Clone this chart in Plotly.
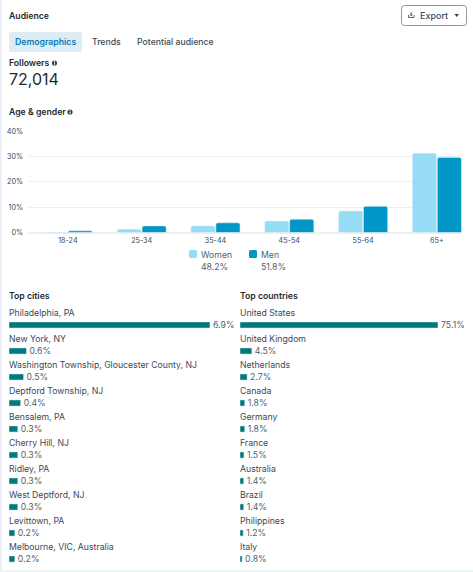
import plotly.graph_objects as go

# Audience demographics
age_groups = ["18-24", "25-34", "35-44", "45-54", "55-64", "65+"]
women = [0.15, 1.3, 2.6, 4.5, 8.5, 31.2]
men = [0.65, 2.6, 3.8, 5.2, 10.3, 29.6]
age_ticks = [0, 10, 20, 30, 40]
women_total = "48.2%"
men_total = "51.8%"

cities = ["Philadelphia, PA", "New York, NY", "Washington Township, Gloucester County, NJ",
          "Deptford Township, NJ", "Bensalem, PA", "Cherry Hill, NJ", "Ridley, PA",
          "West Deptford, NJ", "Levittown, PA", "Melbourne, VIC, Australia"]
city_share = [6.9, 0.6, 0.5, 0.4, 0.3, 0.3, 0.3, 0.3, 0.2, 0.2]

countries = ["United States", "United Kingdom", "Netherlands", "Canada", "Germany",
             "France", "Australia", "Brazil", "Philippines", "Italy"]
country_share = [75.1, 4.5, 2.7, 1.8, 1.8, 1.5, 1.4, 1.4, 1.2, 0.8]

W, H = 473, 572
FONT = "Inter"
INK = "#1c2b33"
BODY = "#3a4a55"
MUTED = "#51626f"
TEAL = "#00797d"
LIGHT = "#97dcf5"
BLUE = "#0096c7"
GRID = "#edeff2"


def px(x):
    return x / W


def py(y):
    return 1 - y / H


fig = go.Figure()

# Age and gender columns
fig.add_bar(x=age_groups, y=women, name="Women", marker=dict(color=LIGHT, cornerradius=2),
            xaxis="x", yaxis="y")
fig.add_bar(x=age_groups, y=men, name="Men", marker=dict(color=BLUE, cornerradius=2),
            xaxis="x", yaxis="y")

annotations = []
shapes = []


def text(x, y, s, size=9, color=INK, anchor="left", weight=400):
    annotations.append(dict(xref="paper", yref="paper", x=px(x), y=py(y), text=s, showarrow=False,
                            xanchor=anchor, yanchor="middle", borderpad=0, borderwidth=0,
                            font=dict(family=FONT, size=size, color=color, weight=weight)))


def box(x0, y0, x1, y1, fill, line=None, r=0):
    if r:
        a0, a1 = px(x0), px(x1)
        b0, b1 = py(y0), py(y1)
        rx, ry = px(r), r / H
        path = (f"M{a0+rx},{b0} L{a1-rx},{b0} Q{a1},{b0} {a1},{b0-ry} L{a1},{b1+ry} Q{a1},{b1} {a1-rx},{b1} "
                f"L{a0+rx},{b1} Q{a0},{b1} {a0},{b1+ry} L{a0},{b0-ry} Q{a0},{b0} {a0+rx},{b0} Z")
        shapes.append(dict(type="path", xref="paper", yref="paper", path=path, fillcolor=fill,
                           line=dict(color=line or fill, width=1 if line else 0), layer="below"))
    else:
        shapes.append(dict(type="rect", xref="paper", yref="paper", x0=px(x0), x1=px(x1), y0=py(y0), y1=py(y1),
                           fillcolor=fill, line=dict(width=0), layer="below"))


def info_dot(cx, cy):
    shapes.append(dict(type="circle", xref="paper", yref="paper", x0=px(cx - 2.6), x1=px(cx + 2.6),
                       y0=py(cy + 2.6), y1=py(cy - 2.6), fillcolor="#33424c", line=dict(width=0)))
    shapes.append(dict(type="line", xref="paper", yref="paper", x0=px(cx), x1=px(cx),
                       y0=py(cy + 1.8), y1=py(cy - 0.4), line=dict(color="white", width=1)))
    shapes.append(dict(type="line", xref="paper", yref="paper", x0=px(cx), x1=px(cx),
                       y0=py(cy - 1), y1=py(cy - 2), line=dict(color="white", width=1)))


# Page edges
box(0, 0, 1.5, H, "#e9ebf7")
box(0, 570.5, W, H, "#e6f1f3")

# Header
text(9, 16, "Audience", 8.7, INK, weight=600)
box(401.5, 5.5, 466.5, 25.5, "white", line="#8d98a0", r=3)
text(419.5, 15, "Export", 9, BODY, weight=500)
shapes.append(dict(type="path", xref="paper", yref="paper",
                   path=f"M{px(454.5)},{py(14)} L{px(459)},{py(14)} L{px(456.7)},{py(17)} Z",
                   fillcolor="#33424c", line=dict(width=0)))
shapes.append(dict(type="path", xref="paper", yref="paper",
                   path=f"M{px(408.5)},{py(15)} L{px(408.5)},{py(17.5)} L{px(414)},{py(17.5)} L{px(414)},{py(15)} "
                        f"M{px(411.2)},{py(12)} L{px(411.2)},{py(15.5)} M{px(410)},{py(14.3)} L{px(411.2)},{py(15.8)} L{px(412.4)},{py(14.3)}",
                   line=dict(color="#33424c", width=0.8)))

# Tabs
box(9, 32, 82, 52, "#deecf6", r=2)
text(15, 42, "Demographics", 8.7, "#0a7ab5", weight=600)
text(91.5, 42, "Trends", 8.7, BODY, weight=500)
text(137, 42, "Potential audience", 8.7, BODY, weight=500)

# Follower count
text(9, 63, "Followers", 8.7, INK, weight=600)
info_dot(54.5, 63)
text(9, 79.5, "72,014", 16, INK)

# Section titles
text(9, 112, "Age &amp; gender", 8.7, INK, weight=600)
info_dot(70, 112)
text(9, 296, "Top cities", 8.7, INK, weight=600)
text(240, 296, "Top countries", 8.7, INK, weight=600)

# Gender key
box(189, 250, 197, 258, LIGHT, r=1.5)
box(249, 250, 257, 258, BLUE, r=1.5)
text(200.5, 255, "Women", 8.7, MUTED)
text(260.5, 255, "Men", 8.7, MUTED)
text(200.5, 267, women_total, 8.7, MUTED)
text(260.5, 267, men_total, 8.7, MUTED)


def ranked_bars(names, shares, xa, ya):
    fig.add_bar(y=list(range(len(names))), x=shares, orientation="h", xaxis=xa, yaxis=ya,
                width=0.235, marker=dict(color=TEAL),
                text=[f"{v}%" for v in shares], textposition="outside", cliponaxis=False,
                constraintext="none", textangle=0,
                textfont=dict(family=FONT, size=8.7, color=MUTED), showlegend=False)
    for i, name in enumerate(names):
        annotations.append(dict(xref=xa, yref=ya, x=0, y=i, text=name, showarrow=False, xanchor="left",
                                yanchor="middle", yshift=12, xshift=-1, borderpad=0,
                                font=dict(family=FONT, size=8.7, color=BODY)))


ranked_bars(cities, city_share, "x2", "y2")
ranked_bars(countries, country_share, "x3", "y3")

list_axis = dict(visible=False, fixedrange=True)
fig.update_layout(
    width=W, height=H, margin=dict(l=0, r=0, t=0, b=0, autoexpand=False),
    paper_bgcolor="white", plot_bgcolor="rgba(0,0,0,0)",
    showlegend=False, barmode="group", bargap=0.325, bargroupgap=0.03,
    font=dict(family=FONT, size=8, color=BODY),
    annotations=annotations, shapes=shapes,
    xaxis=dict(domain=[px(28), px(462)], range=[-0.54, 5.34], anchor="y", type="category",
               categoryorder="array", categoryarray=age_groups,
               showgrid=False, ticks="", zeroline=False, tickfont=dict(family=FONT, size=7.2, color=BODY),
               ticklen=0, ticklabelstandoff=2),
    yaxis=dict(domain=[py(232.5), py(131)], range=[0, 40], tickvals=age_ticks,
               ticktext=[f"{t}%" for t in age_ticks], gridcolor=GRID, gridwidth=1,
               zeroline=True, zerolinecolor=GRID, showline=False, ticks="", ticklabelstandoff=4,
               tickfont=dict(family=FONT, size=7.2, color=BODY)),
    xaxis2=dict(list_axis, domain=[px(9), px(210)], range=[0, 6.9], anchor="y2"),
    yaxis2=dict(list_axis, domain=[py(572), py(312)], range=[9.5, -0.5], anchor="x2"),
    xaxis3=dict(list_axis, domain=[px(240), px(438)], range=[0, 75.1], anchor="y3"),
    yaxis3=dict(list_axis, domain=[py(572), py(312)], range=[9.5, -0.5], anchor="x3"),
)

fig.write_html("out.html", config=dict(displayModeBar=False))
